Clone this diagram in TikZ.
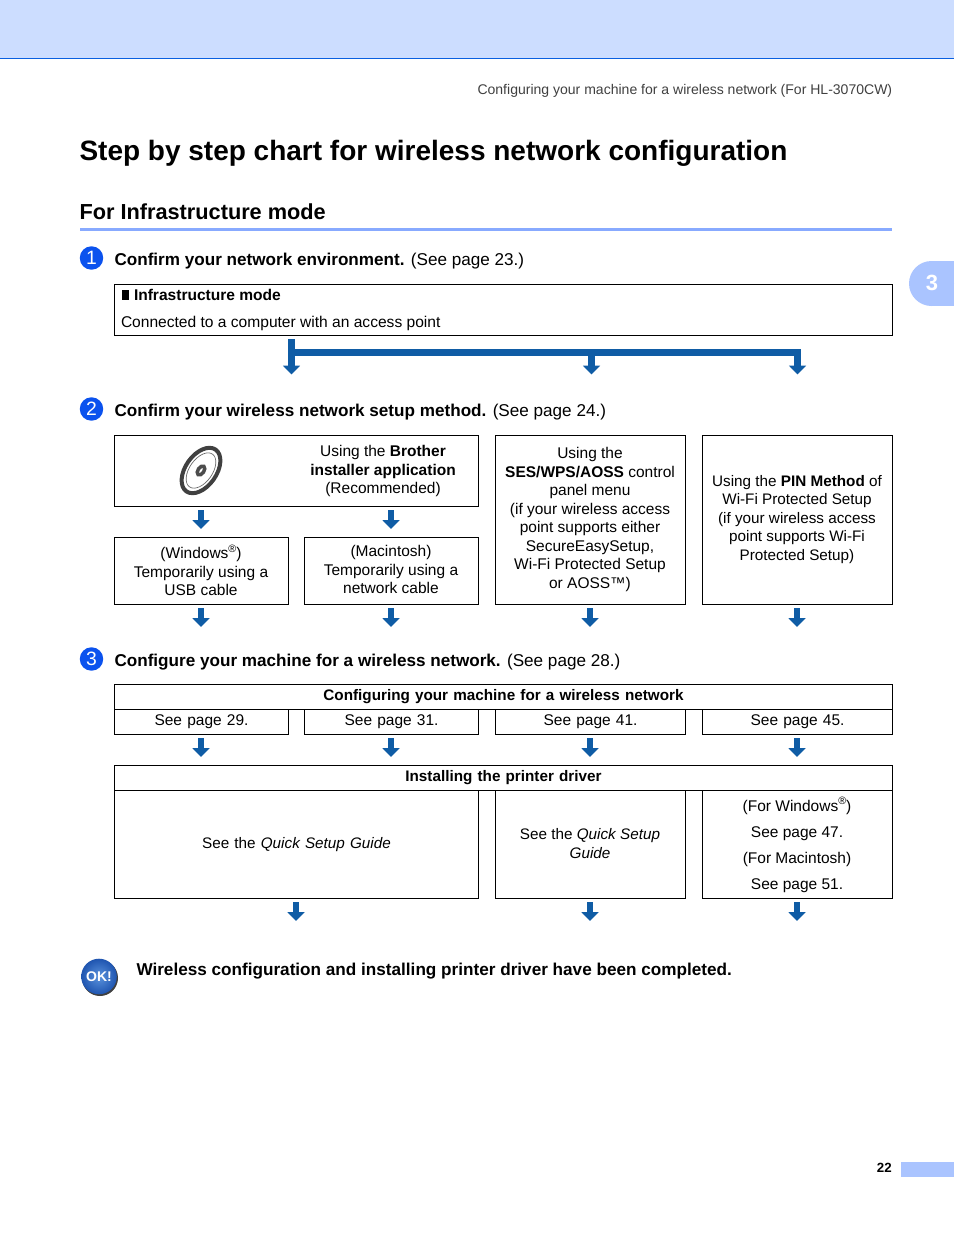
\documentclass[tikz,border=0pt]{standalone}
\usepackage{fontspec}
\setmainfont{Liberation Sans}
\usetikzlibrary{arrows.meta,shapes.geometric}
\definecolor{band}{HTML}{CCDDFF}
\definecolor{bandline}{HTML}{0A5FE0}
\definecolor{rulec}{HTML}{88AAFF}
\definecolor{tabc}{HTML}{AAC4FF}
\definecolor{flowc}{HTML}{0F5CA5}
\definecolor{stepc}{HTML}{0B52EE}
\definecolor{headgray}{HTML}{404040}
\definecolor{okin}{HTML}{5B93DD}
\definecolor{okout}{HTML}{1F55B0}
\newcommand\fsz[2]{\fontsize{#1}{#2}\selectfont}
\newcommand\bodyfont{\fsz{11.62}{13.9}}
\newcommand\tightfont{\fsz{11.45}{13.9}}
\newcommand\supr{\raisebox{0.42em}{\fontsize{8}{8}\selectfont ®}}
\tikzset{
  bx/.style={draw=black,line width=0.8pt,inner sep=0pt,outer sep=0pt,align=center,font=\bodyfont,text width=#1},
  bx/.default=200pt,
  flow/.style={draw=flowc,line width=4.6pt,-{Triangle[width=12.4pt,length=6.6pt]}},
  lbl/.style={anchor=base west,inner sep=0pt,outer sep=0pt},
  midtext/.style={align=center,inner sep=0pt,font=\bodyfont},
  stephead/.style={lbl,font=\fsz{12.84}{15}},
  stepnum/.style={circle,fill=stepc,minimum size=17.6pt,inner sep=0pt,text=white,font=\fsz{14.5}{15}},
}
% name, x1, y1, x2, y2, text
\newcommand\bxx[6]{%
  \pgfmathsetmacro\bxw{(#4-#2)*0.75}%
  \pgfmathsetmacro\bxh{(#5-#3)*0.75}%
  \pgfmathsetmacro\bxcx{(#2+#4)/2}%
  \pgfmathsetmacro\bxcy{(#3+#5)/2}%
  \node[bx=\bxw pt,minimum width=\bxw pt,minimum height=\bxh pt] (#1) at (\bxcx,\bxcy) {#6};}
% name, x, y1, y2
\newcommand\arr[4]{%
  \coordinate (#1s) at (#2,#3);\coordinate (#1e) at (#2,#4);
  \draw[flow] (#1s) -- (#1e);}
\begin{document}
\begin{tikzpicture}[x=0.75pt,y=-0.75pt]
\useasboundingbox (0,0) rectangle (954,1235);
\fill[white] (0,0) rectangle (954,1235);
% header band
\fill[band] (0,0) rectangle (954,58);
\fill[bandline] (0,58) rectangle (954,59);
\node[anchor=base east,inner sep=0pt,text=headgray,font=\fsz{10.52}{13}] (runhead) at (892.5,94) {Configuring your machine for a wireless network (For HL-3070CW)};
% titles
\node[lbl,font=\bfseries\fsz{21}{26}] (title) at (79.5,160) {Step by step chart for wireless network configuration};
\node[lbl,font=\bfseries\fsz{16.3}{20}] (section) at (79.5,219) {For Infrastructure mode};
\fill[rulec] (80,228) rectangle (892,231);
% chapter tab
\fill[tabc] (931.5,283.5) circle[radius=22.5];
\fill[tabc] (931.5,261) rectangle (954,306);
\node[text=white,inner sep=0pt,font=\bfseries\fsz{16.5}{18}] (tabnum) at (932,282.5) {3};
% step 1
\node[stepnum] (n1) at (91.5,258) {1};
\node[stephead] (h1) at (114.5,265) {\textbf{Confirm your network environment.} (See page 23.)};
\bxx{infra}{114.5}{284.5}{892.5}{335.5}{}
\fill[black] (121.5,289.5) rectangle (129,300);
\node[lbl,font=\bfseries\fsz{11.66}{14}] (infra1) at (134,300) {Infrastructure mode};
\node[lbl,font=\fsz{11.68}{14}] (infra2) at (121,327) {Connected to a computer with an access point};
% splitter
\coordinate (sa) at (291.5,339);
\coordinate (sb) at (291.5,352.5);
\coordinate (sc) at (591.5,352.5);
\coordinate (sd) at (797.5,352.5);
\draw[flow] (sa) -- (291.5,374.5);
\draw[draw=flowc,line width=5.2pt] (sb) -- (801,352.5);
\coordinate (se) at (591.5,374.5);
\coordinate (sf) at (797.5,374.5);
\draw[flow] (sc) -- (se);
\draw[flow] (sd) -- (sf);
% step 2
\node[stepnum] (n2) at (91.5,409) {2};
\node[stephead] (h2) at (114.5,416) {\textbf{Confirm your wireless network setup method.} (See page 24.)};
\bxx{brother}{114.5}{435.5}{478.5}{506.5}{}
% CD
\begin{scope}[shift={(201,470.5)},rotate=55]
  \draw[draw=black!75,line width=3pt,fill=white] (0,0) ellipse [x radius=25.5,y radius=15.5];
  \draw[draw=black!60,line width=0.5pt] (0,0) ellipse [x radius=20,y radius=11.5];
  \draw[draw=black!70,line width=2.6pt,fill=white] (0,0) ellipse [x radius=5,y radius=3];
\end{scope}
\node[midtext] (brothertxt) at (383,471) {Using the \textbf{Brother}\\\textbf{installer application}\\(Recommended)};
\bxx{sesw}{495.5}{435.5}{685.5}{604.5}{}
\node[midtext] (seswtxt) at (590,519.5) {Using the\\\textbf{SES/WPS/AOSS} control\\panel menu\\(if your wireless access\\point supports either\\SecureEasySetup,\\Wi-Fi Protected Setup\\or AOSS™)};
\bxx{pin}{702.5}{435.5}{892.5}{604.5}{}
\node[midtext,font=\tightfont] (pintxt) at (797,519.5) {Using the \textbf{PIN Method} of\\Wi-Fi Protected Setup\\(if your wireless access\\point supports Wi-Fi\\Protected Setup)};
\bxx{win}{114.5}{537.5}{288.5}{604.5}{}
\node[midtext] (wintxt) at (201,570.5) {(Windows\supr)\\Temporarily using a\\USB cable};
\bxx{mac}{304.5}{537.5}{478.5}{604.5}{}
\node[midtext] (mactxt) at (391,569.5) {(Macintosh)\\Temporarily using a\\network cable};
\arr{a1}{201}{510}{529}
\arr{a2}{391}{510}{529}
\arr{a3}{201}{608}{627}
\arr{a4}{391}{608}{627}
\arr{a5}{590}{608}{627}
\arr{a6}{797}{608}{627}
% step 3
\node[stepnum] (n3) at (91.5,659) {3};
\node[stephead] (h3) at (114.5,666) {\textbf{Configure your machine for a wireless network.} (See page 28.)};
\bxx{conf}{114.5}{684.5}{892.5}{709.5}{\tightfont\textbf{\raisebox{-0.5pt}{Configuring your machine for a wireless network}}}
\bxx{p29}{114.5}{709.5}{288.5}{734.5}{\raisebox{-0.75pt}{See page 29.}}
\bxx{p31}{304.5}{709.5}{478.5}{734.5}{\raisebox{-0.75pt}{See page 31.}}
\bxx{p41}{495.5}{709.5}{685.5}{734.5}{\raisebox{-0.75pt}{See page 41.}}
\bxx{p45}{702.5}{709.5}{892.5}{734.5}{\raisebox{-0.75pt}{See page 45.}}
\arr{a7}{201}{738}{757}
\arr{a8}{391}{738}{757}
\arr{a9}{590}{738}{757}
\arr{a10}{797}{738}{757}
\bxx{inst}{114.5}{765.5}{892.5}{790.5}{\tightfont\textbf{\raisebox{0.6pt}{Installing the printer driver}}}
\bxx{qs1}{114.5}{790.5}{478.5}{898.5}{\tightfont See the \textit{Quick Setup Guide}}
\bxx{qs2}{495.5}{790.5}{685.5}{898.5}{}
\node[midtext,font=\tightfont] (qs2txt) at (590,843.5) {See the \textit{Quick Setup}\\\textit{Guide}};
\bxx{drv}{702.5}{790.5}{892.5}{898.5}{}
\node[align=center,inner sep=0pt,font=\fsz{11.62}{19.6}] (drvtxt) at (797,845) {(For Windows\supr)\\See page 47.\\(For Macintosh)\\See page 51.};
\arr{a11}{296}{902}{921}
\arr{a12}{590}{902}{921}
\arr{a13}{797}{902}{921}
% OK
\fill[black!75] (100,978) circle[radius=18];
\shade[inner color=okin,outer color=okout] (99,976.5) circle[radius=17.8];
\node[text=white,inner sep=0pt,font=\bfseries\fsz{10.5}{12}] (ok) at (99,977) {OK!};
\node[lbl,font=\bfseries\fsz{12.86}{15}] (done) at (136.5,975) {Wireless configuration and installing printer driver have been completed.};
% folio
\node[anchor=base east,inner sep=0pt,font=\bfseries\fsz{10}{12}] (folio) at (892,1172) {22};
\fill[tabc] (901,1162) rectangle (954,1177);
\end{tikzpicture}
\end{document}
